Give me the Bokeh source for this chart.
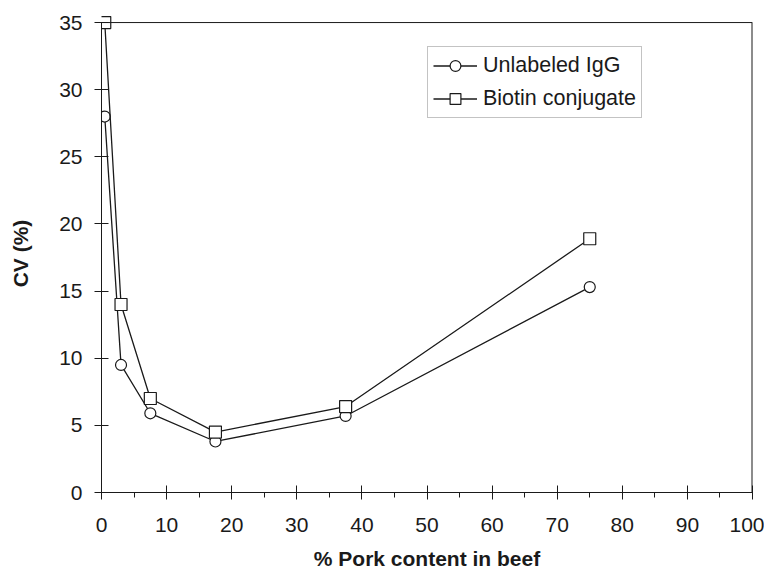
from bokeh.plotting import figure
from bokeh.embed import file_html
from bokeh.resources import INLINE
from bokeh.models import FixedTicker, Legend, LegendItem, Span

x_vals = [0.5, 3, 7.5, 17.5, 37.5, 75]
unlabeled_igg = [28.0, 9.5, 5.9, 3.8, 5.7, 15.3]
biotin_conj = [35.0, 14.0, 7.0, 4.5, 6.4, 18.9]
x_ticks = [0, 10, 20, 30, 40, 50, 60, 70, 80, 90, 100]
x_minor = [5, 15, 25, 35, 45, 55, 65, 75, 85, 95]
y_ticks = [0, 5, 10, 15, 20, 25, 30, 35]
x_title = "% Pork content in beef"
y_title = "CV (%)"

FONT = "Liberation Sans"
INK = "#1a1a1a"

x_min, x_max = x_ticks[0], x_ticks[-1]
y_min, y_max = y_ticks[0], y_ticks[-1]

p = figure(width=764, height=572, output_backend="svg", toolbar_location=None,
           x_range=(x_min, x_max), y_range=(y_min, y_max + 0.6),
           min_border_left=101, min_border_right=12, min_border_top=14, min_border_bottom=80)
p.xgrid.visible = False
p.ygrid.visible = False
p.outline_line_color = None
p.background_fill_color = "white"
p.border_fill_color = "white"

# frame top and right edges (box at y = 35 and x = 100)
p.add_layout(Span(location=y_max, dimension="width", line_color=INK, line_width=1))
p.segment(x0=[x_max], y0=[y_min], x1=[x_max], y1=[y_max], line_color=INK, line_width=2)

r1l = p.line(x_vals, unlabeled_igg, line_color=INK, line_width=1.3)
r1m = p.scatter(x_vals, unlabeled_igg, marker="circle", size=11, line_color=INK,
                fill_color="white", line_width=1.2)
r2l = p.line(x_vals, biotin_conj, line_color=INK, line_width=1.3)
r2m = p.scatter(x_vals, biotin_conj, marker="square", size=12, line_color=INK,
                fill_color="white", line_width=1.2)

p.xaxis.ticker = FixedTicker(ticks=x_ticks, minor_ticks=x_minor)
p.yaxis.ticker = FixedTicker(ticks=y_ticks)
p.yaxis.bounds = (y_min, y_max)
for ax in (p.xaxis[0], p.yaxis[0]):
    ax.axis_line_color = INK
    ax.major_tick_line_color = INK
    ax.minor_tick_line_color = INK
    ax.major_tick_in = 7
    ax.major_tick_out = 7
    ax.major_label_text_font = FONT
    ax.major_label_text_font_size = "21px"
    ax.major_label_text_color = INK
    ax.axis_label_text_font = FONT
    ax.axis_label_text_font_size = "21px"
    ax.axis_label_text_font_style = "bold"
    ax.axis_label_text_color = INK
p.xaxis.minor_tick_in = 0
p.xaxis.minor_tick_out = 5
p.yaxis.minor_tick_line_color = None
p.xaxis.major_label_standoff = 18
p.yaxis.major_label_standoff = 12
p.xaxis.axis_label = x_title
p.yaxis.axis_label = y_title
p.xaxis.axis_label_standoff = 12
p.yaxis.axis_label_standoff = 24

legend = Legend(items=[LegendItem(label="Unlabeled IgG", renderers=[r1l, r1m]),
                       LegendItem(label="Biotin conjugate", renderers=[r2l, r2m])],
                location=(326, 374))
legend.label_text_font = FONT
legend.label_text_font_size = "21.5px"
legend.label_text_color = INK
legend.glyph_width = 44
legend.glyph_height = 27
legend.label_height = 27
legend.padding = 5
legend.spacing = 6
legend.margin = 0
legend.label_standoff = 6
legend.border_line_color = "#888888"
legend.border_line_width = 1
legend.background_fill_alpha = 1
p.add_layout(legend)

open("out.html", "w").write(file_html(p, INLINE))
